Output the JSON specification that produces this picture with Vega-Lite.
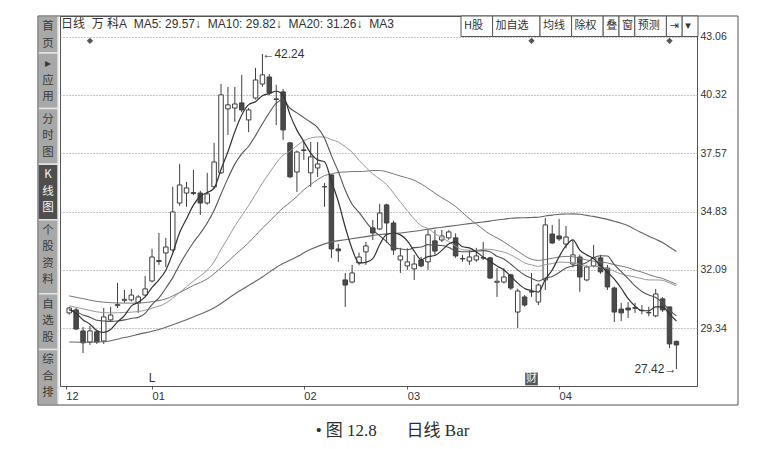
{
"$schema": "https://vega.github.io/schema/vega-lite/v6.json",
"width": 637,
"height": 370,
"autosize": {"type": "none"},
"padding": {"left": 60, "top": 16, "right": 74, "bottom": 63},
"background": "#ffffff",
"config": {"view": {"stroke": "#555555", "strokeWidth": 1}, "font": "Liberation Sans"},
"title": {"text": "日线\u00a0\u00a0万\u00a0科A\u00a0\u00a0MA5: 29.57↓\u00a0\u00a0MA10: 29.82↓\u00a0\u00a0MA20: 31.26↓\u00a0\u00a0MA3", "anchor": "start", "frame": "group", "orient": "top", "offset": -28, "baseline": "bottom", "dx": 1, "fontSize": 12, "fontWeight": "normal", "color": "#333333", "font": "Liberation Sans, Noto Sans CJK SC"},
"datasets": {
"tabs": [{"k":"","t":"","n":0},{"k":"首页","t":"首\n页","n":2},{"k":"应用","t":"▸\n应\n用","n":3},{"k":"分时图","t":"分\n时\n图","n":3},{"k":"K线图","t":"K\n线\n图","n":3},{"k":"个股资料","t":"个\n股\n资\n料","n":4},{"k":"自选股","t":"自\n选\n股","n":3},{"k":"综合排","t":"综\n合\n排","n":3}],
"btn": [{"b":"","n":0},{"b":"H股","n":2},{"b":"加自选","n":3},{"b":"均线","n":2},{"b":"除权","n":2},{"b":"叠","n":1},{"b":"窗","n":1},{"b":"预测","n":2},{"b":"⇥","n":1},{"b":"▾","n":1}],
"k": [
{"i":0,"o":30.06,"h":30.35,"l":29.98,"c":30.29,"m5":30.22,"m10":30.2,"m20":30.39,"m30":30.86,"m60":28.69},
{"i":1,"o":30.2,"h":30.3,"l":29.25,"c":29.3,"m5":30.04,"m10":30.12},
{"i":2,"o":29.21,"h":29.4,"l":28.17,"c":28.65,"m5":29.73,"m10":29.96,"m20":30.25,"m30":30.73},
{"i":3,"o":28.69,"h":29.44,"l":28.55,"c":29.21,"m5":29.53,"m10":29.86,"m60":28.68},
{"i":4,"o":29.17,"h":29.25,"l":28.6,"c":28.69,"m5":29.23,"m10":29.71,"m20":30.11,"m30":30.6},
{"i":5,"o":28.74,"h":30.29,"l":28.6,"c":29.87,"m5":29.14,"m10":29.68,"m60":28.7},
{"i":6,"o":29.73,"h":30.34,"l":29.63,"c":29.96,"m5":29.28,"m10":29.66,"m20":30.06,"m30":30.54},
{"i":7,"o":30.4,"h":31.47,"l":30.29,"c":30.45,"m5":29.64,"m10":29.68},
{"i":8,"o":30.65,"h":31.14,"l":30.53,"c":30.7,"m5":29.93,"m10":29.73,"m20":30.08,"m30":30.52,"m60":28.9},
{"i":9,"o":30.67,"h":31.19,"l":30.6,"c":30.9,"m5":30.38,"m10":29.8},
{"i":10,"o":30.53,"h":30.9,"l":30.06,"c":30.81,"m5":30.56,"m10":29.85,"m20":30.12,"m30":30.52,"m60":29.05},
{"i":11,"o":30.9,"h":31.8,"l":30.85,"c":31.19,"m5":30.81,"m10":30.04},
{"i":12,"o":31.56,"h":33.07,"l":31.5,"c":32.69,"m5":31.26,"m10":30.45,"m20":30.28,"m30":30.59},
{"i":13,"o":32.52,"h":33.82,"l":32.32,"c":32.48,"m5":31.61,"m10":30.77,"m60":29.28},
{"i":14,"o":32.88,"h":33.59,"l":32.22,"c":33.16,"m5":32.07,"m10":31.22,"m20":30.52,"m30":30.72},
{"i":15,"o":33.02,"h":35.99,"l":32.95,"c":34.81,"m5":32.87,"m10":31.72},
{"i":16,"o":35.23,"h":37.07,"l":35.1,"c":36.08,"m5":33.84,"m10":32.33,"m20":31.02,"m30":31.02,"m60":29.62},
{"i":17,"o":35.7,"h":36.22,"l":35.05,"c":35.94,"m5":34.49,"m10":32.88},
{"i":18,"o":35.72,"h":36.79,"l":35.6,"c":35.68,"m5":35.13,"m10":33.37,"m20":31.56,"m30":31.35,"m60":29.87},
{"i":19,"o":35.7,"h":35.8,"l":34.67,"c":35.23,"m5":35.55,"m10":33.81,"m20":31.8},
{"i":20,"o":35.23,"h":36.65,"l":35.15,"c":35.66,"m5":35.72,"m10":34.29,"m20":32.07,"m30":31.66},
{"i":21,"o":35.99,"h":38.06,"l":35.9,"c":37.16,"m5":35.93,"m10":34.89,"m20":32.47,"m60":30.3},
{"i":22,"o":36.65,"h":40.83,"l":36.6,"c":40.32,"m5":36.81,"m10":35.65,"m20":33.05,"m30":32.18},
{"i":23,"o":39.66,"h":40.69,"l":38.43,"c":39.85,"m5":37.64,"m10":36.39,"m20":33.58},
{"i":24,"o":39.7,"h":40.69,"l":39.05,"c":39.89,"m5":38.58,"m10":37.06,"m20":34.14,"m30":32.78,"m60":30.95},
{"i":25,"o":39.94,"h":41.26,"l":39.5,"c":39.61,"m5":39.37,"m10":37.54,"m20":34.63},
{"i":26,"o":39.14,"h":39.7,"l":38.57,"c":39.61,"m5":39.86,"m10":37.9,"m20":35.11,"m30":33.36,"m60":31.35},
{"i":27,"o":40.17,"h":41.59,"l":40.1,"c":41.02,"m5":40.0,"m10":38.4,"m20":35.64},
{"i":28,"o":40.83,"h":42.24,"l":40.7,"c":41.26,"m5":40.28,"m10":38.96,"m20":36.17,"m30":34.05,"m60":31.75},
{"i":29,"o":41.16,"h":41.3,"l":40.3,"c":40.41,"m5":40.38,"m10":39.48,"m20":36.64,"m30":34.36},
{"i":30,"o":40.1,"h":40.79,"l":38.9,"c":40.13,"m5":40.49,"m10":39.93,"m20":37.11,"m30":34.69,"m60":32.2},
{"i":31,"o":40.46,"h":40.6,"l":38.2,"c":38.67,"m5":40.3,"m10":40.08,"m20":37.48,"m30":35.0},
{"i":32,"o":38.06,"h":38.1,"l":36.4,"c":36.46,"m5":39.39,"m10":39.69,"m20":37.67,"m30":35.26},
{"i":33,"o":36.69,"h":37.7,"l":35.75,"c":37.63,"m5":38.66,"m10":39.47,"m20":37.93,"m30":35.54,"m60":32.7},
{"i":34,"o":37.7,"h":38.1,"l":37.26,"c":37.73,"m5":38.12,"m10":39.25,"m20":38.16,"m30":35.85},
{"i":35,"o":36.65,"h":38.1,"l":35.99,"c":37.4,"m5":37.58,"m10":39.03,"m20":38.29,"m30":36.1,"m60":33.05},
{"i":36,"o":36.88,"h":38.1,"l":36.46,"c":37.07,"m5":37.26,"m10":38.78,"m20":38.34,"m30":36.33},
{"i":37,"o":35.99,"h":36.17,"l":35.05,"c":36.0,"m5":37.17,"m10":38.28,"m20":38.34,"m30":36.52},
{"i":38,"o":36.55,"h":36.6,"l":32.65,"c":33.07,"m5":36.25,"m10":37.46,"m20":38.21,"m30":36.6,"m60":33.4},
{"i":39,"o":33.07,"h":33.3,"l":32.46,"c":32.98,"m5":35.3,"m10":36.71,"m20":38.1,"m30":36.67},
{"i":40,"o":31.61,"h":31.94,"l":30.34,"c":31.37,"m5":34.1,"m10":35.84,"m20":37.88,"m30":36.69,"m60":33.5},
{"i":41,"o":31.51,"h":32.32,"l":31.45,"c":31.94,"m5":33.07,"m10":35.17,"m20":37.62,"m30":36.71},
{"i":42,"o":32.41,"h":32.9,"l":32.3,"c":32.69,"m5":32.41,"m10":34.79,"m20":37.24,"m30":36.71},
{"i":43,"o":32.93,"h":33.4,"l":32.32,"c":33.21,"m5":32.44,"m10":34.35,"m20":36.91,"m30":36.73,"m60":33.65},
{"i":44,"o":34.06,"h":34.43,"l":33.49,"c":33.82,"m5":32.61,"m10":33.96,"m20":36.6,"m30":36.76},
{"i":45,"o":34.01,"h":35.19,"l":33.95,"c":34.76,"m5":33.28,"m10":33.69,"m20":36.36,"m30":36.76,"m60":33.75},
{"i":46,"o":35.14,"h":35.2,"l":33.35,"c":34.29,"m5":33.75,"m10":33.41,"m20":36.1,"m30":36.7},
{"i":47,"o":34.29,"h":34.4,"l":32.79,"c":33.02,"m5":33.82,"m10":33.12,"m20":35.7,"m30":36.6},
{"i":48,"o":32.55,"h":33.12,"l":31.94,"c":32.74,"m5":33.73,"m10":33.08,"m20":35.27,"m30":36.5,"m60":33.82},
{"i":49,"o":32.27,"h":33.1,"l":32.08,"c":32.46,"m5":33.45,"m10":33.03,"m20":34.87,"m30":36.41},
{"i":50,"o":32.13,"h":32.79,"l":31.61,"c":32.36,"m5":32.97,"m10":33.13,"m20":34.48,"m30":36.3,"m60":33.9},
{"i":51,"o":32.55,"h":32.7,"l":32.2,"c":32.27,"m5":32.57,"m10":33.16,"m20":34.16,"m30":36.13},
{"i":52,"o":32.46,"h":33.96,"l":32.08,"c":33.73,"m5":32.71,"m10":33.27,"m20":34.03,"m30":35.92},
{"i":53,"o":33.45,"h":33.96,"l":32.79,"c":32.97,"m5":32.76,"m10":33.24,"m20":33.79,"m30":35.69,"m60":34.05},
{"i":54,"o":33.49,"h":33.96,"l":33.4,"c":33.68,"m5":33.0,"m10":33.23,"m20":33.59,"m30":35.48},
{"i":55,"o":33.59,"h":33.95,"l":33.5,"c":33.87,"m5":33.3,"m10":33.14,"m20":33.42,"m30":35.29,"m60":34.13},
{"i":56,"o":33.59,"h":33.8,"l":32.65,"c":32.74,"m5":33.4,"m10":32.98,"m20":33.2,"m30":35.06},
{"i":57,"o":32.62,"h":32.79,"l":32.46,"c":32.6,"m5":33.17,"m10":32.94,"m20":33.03,"m30":34.78,"m60":34.22},
{"i":58,"o":32.5,"h":33.02,"l":32.32,"c":32.69,"m5":33.12,"m10":32.94,"m20":33.01,"m30":34.49},
{"i":59,"o":32.55,"h":33.12,"l":32.46,"c":32.74,"m5":32.93,"m10":32.97,"m20":33.0,"m30":34.24,"m60":34.3},
{"i":60,"o":32.64,"h":33.4,"l":32.55,"c":32.66,"m5":32.69,"m10":32.99,"m20":33.06,"m30":33.99,"m60":34.34},
{"i":61,"o":32.65,"h":32.7,"l":31.66,"c":31.7,"m5":32.48,"m10":32.94,"m20":33.05,"m30":33.76,"m60":34.38},
{"i":62,"o":31.5,"h":32.17,"l":30.81,"c":31.55,"m5":32.27,"m10":32.72,"m20":32.99,"m30":33.59,"m60":34.43},
{"i":63,"o":31.51,"h":32.17,"l":31.45,"c":31.75,"m5":32.08,"m10":32.6,"m20":32.92,"m30":33.4,"m60":34.47},
{"i":64,"o":31.85,"h":31.9,"l":31.14,"c":31.23,"m5":31.78,"m10":32.35,"m20":32.79,"m30":33.18,"m60":34.51},
{"i":65,"o":30.1,"h":31.2,"l":29.35,"c":31.09,"m5":31.46,"m10":32.08,"m20":32.61,"m30":32.97,"m60":34.53},
{"i":66,"o":30.81,"h":30.9,"l":30.35,"c":30.43,"m5":31.21,"m10":31.84,"m20":32.41,"m30":32.75,"m60":34.54},
{"i":67,"o":31.04,"h":31.94,"l":30.81,"c":31.06,"m5":31.11,"m10":31.69,"m20":32.32,"m30":32.58,"m60":34.55},
{"i":68,"o":30.57,"h":31.45,"l":30.43,"c":31.37,"m5":31.04,"m10":31.56,"m20":32.25,"m30":32.53,"m60":34.56},
{"i":69,"o":31.61,"h":34.53,"l":31.14,"c":34.2,"m5":31.63,"m10":31.7,"m20":32.33,"m30":32.57,"m60":34.62},
{"i":70,"o":33.77,"h":34.2,"l":33.3,"c":33.35,"m5":32.08,"m10":31.77,"m20":32.38,"m30":32.63,"m60":34.66},
{"i":71,"o":33.68,"h":34.48,"l":33.45,"c":33.54,"m5":32.7,"m10":31.96,"m20":32.45,"m30":32.69,"m60":34.7},
{"i":72,"o":33.3,"h":34.15,"l":33.1,"c":33.63,"m5":33.22,"m10":32.17,"m20":32.44,"m30":32.72,"m60":34.71},
{"i":73,"o":32.36,"h":33.5,"l":32.2,"c":32.79,"m5":33.5,"m10":32.27,"m20":32.43,"m30":32.7,"m60":34.72},
{"i":74,"o":32.69,"h":32.8,"l":31.05,"c":31.75,"m5":33.01,"m10":32.32,"m20":32.34,"m30":32.63,"m60":34.7},
{"i":75,"o":31.61,"h":32.3,"l":31.55,"c":32.22,"m5":32.79,"m10":32.43,"m20":32.25,"m30":32.55,"m60":34.65},
{"i":76,"o":32.27,"h":33.26,"l":32.2,"c":32.65,"m5":32.61,"m10":32.66,"m20":32.25,"m30":32.49,"m60":34.6},
{"i":77,"o":32.65,"h":32.79,"l":31.9,"c":31.99,"m5":32.28,"m10":32.75,"m20":32.22,"m30":32.46,"m60":34.53},
{"i":78,"o":32.17,"h":32.32,"l":31.14,"c":31.28,"m5":31.98,"m10":32.74,"m20":32.15,"m30":32.41,"m60":34.46},
{"i":79,"o":31.23,"h":31.3,"l":29.63,"c":30.1,"m5":31.65,"m10":32.33,"m20":32.02,"m30":32.33,"m60":34.37},
{"i":80,"o":30.24,"h":30.53,"l":29.68,"c":30.06,"m5":31.22,"m10":32.0,"m20":31.89,"m30":32.26,"m60":34.28},
{"i":81,"o":30.29,"h":30.57,"l":29.82,"c":30.2,"m5":30.73,"m10":31.67,"m20":31.81,"m30":32.19,"m60":34.16},
{"i":82,"o":30.3,"h":30.53,"l":30.06,"c":30.28,"m5":30.38,"m10":31.33,"m20":31.75,"m30":32.07,"m60":33.99},
{"i":83,"o":30.18,"h":30.43,"l":30.0,"c":30.17,"m5":30.16,"m10":31.07,"m20":31.67,"m30":31.98,"m60":33.83},
{"i":84,"o":30.06,"h":30.35,"l":29.9,"c":30.08,"m5":30.16,"m10":30.9,"m20":31.61,"m30":31.86,"m60":33.67},
{"i":85,"o":29.92,"h":31.19,"l":29.85,"c":30.95,"m5":30.34,"m10":30.78,"m20":31.61,"m30":31.76,"m60":33.52},
{"i":86,"o":30.72,"h":30.8,"l":30.1,"c":30.2,"m5":30.34,"m10":30.53,"m20":31.59,"m30":31.68,"m60":33.37},
{"i":87,"o":30.34,"h":30.35,"l":28.41,"c":28.6,"m5":30.0,"m10":30.19,"m20":31.47,"m30":31.54,"m60":33.16},
{"i":88,"o":28.72,"h":28.75,"l":27.42,"c":28.55,"m5":29.68,"m10":29.92,"m20":31.33,"m30":31.41,"m60":32.95}
]
},
"layer": [
{
"data": {"name": "tabs"},
"transform": [
 {"window": [{"op": "sum", "field": "n", "as": "e"}], "frame": [null, 0]},
 {"window": [{"op": "sum", "field": "n", "as": "s"}], "frame": [null, -1]},
 {"filter": "datum.n > 0"}
],
"layer": [
{"mark": {"type": "rect", "stroke": "#e4e4e4", "strokeWidth": 1.5},
 "encoding": {
  "x": {"datum": 0, "type": "quantitative", "scale": {"domain": [0, 1], "range": [-22, -2]}, "axis": null},
  "x2": {"datum": 1},
  "y": {"field": "s", "type": "quantitative", "scale": {"domain": [0, 21], "range": [0, 389]}, "axis": null},
  "y2": {"field": "e"},
  "fill": {"condition": {"test": "datum.k === 'K线图'", "value": "#4e4e4e"}, "value": "#a8a8a8"}
 }},
{"mark": {"type": "text", "lineBreak": "\n", "lineHeight": 16.5, "fontSize": 11.5, "font": "Noto Sans CJK SC", "baseline": "middle", "dy": 11},
 "encoding": {
  "x": {"datum": 0.5, "type": "quantitative", "scale": {"domain": [0, 1], "range": [-22, -2]}, "axis": null},
  "y": {"field": "s", "type": "quantitative", "scale": {"domain": [0, 21], "range": [0, 389]}, "axis": null},
  "text": {"field": "t"},
  "color": {"condition": {"test": "datum.k === 'K线图'", "value": "#f4f4f4"}, "value": "#3a3a3a"}
 }}
]
},
{
"data": {"values": [{}]},
"mark": {"type": "rect", "fill": "transparent", "stroke": "#555555", "strokeWidth": 1},
"encoding": {
 "x": {"datum": 0, "type": "quantitative", "scale": {"domain": [0, 1], "range": [-22, 678]}, "axis": null},
 "x2": {"datum": 1},
 "y": {"datum": 0, "type": "quantitative", "scale": {"domain": [0, 1], "range": [0, 389]}, "axis": null},
 "y2": {"datum": 1}
}
},
{
"data": {"name": "btn"},
"transform": [
 {"window": [{"op": "sum", "field": "n", "as": "e"}], "frame": [null, 0]},
 {"window": [{"op": "sum", "field": "n", "as": "s"}], "frame": [null, -1]},
 {"filter": "datum.n > 0"}
],
"layer": [
{"mark": {"type": "rect", "fill": "#ffffff", "stroke": "#555555", "strokeWidth": 1},
 "encoding": {
  "x": {"field": "s", "type": "quantitative", "scale": {"domain": [0, 15], "range": [401, 638]}, "axis": null},
  "x2": {"field": "e"},
  "y": {"datum": 0, "type": "quantitative", "scale": {"domain": [0, 1], "range": [0, 20.5]}, "axis": null},
  "y2": {"datum": 1}
 }},
{"mark": {"type": "text", "fontSize": 11, "font": "Noto Sans CJK SC, DejaVu Sans", "color": "#333333", "align": "left", "dx": 3},
 "encoding": {
  "x": {"field": "s", "type": "quantitative", "scale": {"domain": [0, 15], "range": [401, 638]}, "axis": null},
  "y": {"datum": 0.5, "type": "quantitative", "scale": {"domain": [0, 1], "range": [0, 20.5]}, "axis": null},
  "text": {"field": "b"}
 }}
]
},
{
"data": {"name": "k"},
"encoding": {
 "x": {"field": "i", "type": "quantitative", "scale": {"domain": [-0.613, 90.26], "nice": false, "zero": false},
  "axis": {"values": [-0.5, 12, 34, 49, 71], "labelExpr": "datum.value < 0 ? '12' : datum.value < 20 ? '01' : datum.value < 40 ? '02' : datum.value < 60 ? '03' : '04'", "labelAlign": "left", "labelBaseline": "top", "labelPadding": 1, "labelDx": 1, "labelFontSize": 11, "labelColor": "#333333", "labelFlush": false, "labelOverlap": false, "tickSize": 3, "tickColor": "#555555", "domain": false, "grid": false,
   "title": "•\u00a0图\u00a012.8\u00a0\u00a0\u00a0\u00a0\u00a0\u00a0\u00a0日线\u00a0Bar", "titleFont": "Liberation Serif, Noto Sans CJK SC", "titleFontSize": 17, "titleFontWeight": "normal", "titleColor": "#2b2b2b", "titlePadding": 21, "titleX": 332, "titleAnchor": "middle"}}
},
"layer": [
{"mark": {"type": "rule", "color": "#3f3f3f", "strokeWidth": 1},
 "encoding": {
  "y": {"field": "l", "type": "quantitative", "scale": {"domain": [26.62, 44.03], "nice": false, "zero": false},
   "axis": {"orient": "right", "values": [43.06, 40.32, 37.57, 34.83, 32.09, 29.34], "format": ".2f", "grid": true, "gridDash": [1, 2], "gridColor": "#8a8a8a", "ticks": false, "domain": false, "labelPadding": 3, "labelFontSize": 10.5, "labelColor": "#333333", "labelBaseline": "middle", "labelAlign": "left", "title": null}},
  "y2": {"field": "h"}
 }},
{"mark": {"type": "bar", "size": 4.5, "stroke": "#3f3f3f", "strokeWidth": 1},
 "encoding": {
  "y": {"field": "o", "type": "quantitative", "title": null, "scale": {"domain": [26.62, 44.03], "nice": false, "zero": false}},
  "y2": {"field": "c"},
  "fill": {"condition": {"test": "datum.c >= datum.o", "value": "#ffffff"}, "value": "#4a4a4a"}
 }},
{"transform": [{"filter": "isValid(datum.m60)"}],
 "mark": {"type": "line", "color": "#666666", "strokeWidth": 1.1, "interpolate": "monotone"},
 "encoding": {"y": {"field": "m60", "type": "quantitative", "title": null, "scale": {"domain": [26.62, 44.03], "nice": false, "zero": false}}}},
{"transform": [{"filter": "isValid(datum.m30)"}],
 "mark": {"type": "line", "color": "#777777", "strokeWidth": 1, "interpolate": "monotone"},
 "encoding": {"y": {"field": "m30", "type": "quantitative", "title": null, "scale": {"domain": [26.62, 44.03], "nice": false, "zero": false}}}},
{"transform": [{"filter": "isValid(datum.m20)"}],
 "mark": {"type": "line", "color": "#999999", "strokeWidth": 1, "interpolate": "monotone"},
 "encoding": {"y": {"field": "m20", "type": "quantitative", "title": null, "scale": {"domain": [26.62, 44.03], "nice": false, "zero": false}}}},
{"mark": {"type": "line", "color": "#555555", "strokeWidth": 1.1, "interpolate": "monotone"},
 "encoding": {"y": {"field": "m10", "type": "quantitative", "title": null, "scale": {"domain": [26.62, 44.03], "nice": false, "zero": false}}}},
{"mark": {"type": "line", "color": "#333333", "strokeWidth": 1.2, "interpolate": "monotone"},
 "encoding": {"y": {"field": "m5", "type": "quantitative", "title": null, "scale": {"domain": [26.62, 44.03], "nice": false, "zero": false}}}},
{"data": {"values": [{"i": 3}, {"i": 67}, {"i": 87}]},
 "mark": {"type": "point", "shape": "diamond", "filled": true, "size": 40, "color": "#555555", "opacity": 1},
 "encoding": {"y": {"datum": 42.86, "type": "quantitative", "title": null, "scale": {"domain": [26.62, 44.03], "nice": false, "zero": false}}}},
{"data": {"values": [{"i": 28, "p": 42.24, "t": "←42.24"}]},
 "mark": {"type": "text", "align": "left", "baseline": "middle", "fontSize": 12, "color": "#333333", "dx": 0},
 "encoding": {"y": {"field": "p", "type": "quantitative", "title": null, "scale": {"domain": [26.62, 44.03], "nice": false, "zero": false}}, "text": {"field": "t"}}},
{"data": {"values": [{"i": 88, "p": 27.42, "t": "27.42→"}]},
 "mark": {"type": "text", "align": "right", "baseline": "middle", "fontSize": 12, "color": "#333333", "dx": 0},
 "encoding": {"y": {"field": "p", "type": "quantitative", "title": null, "scale": {"domain": [26.62, 44.03], "nice": false, "zero": false}}, "text": {"field": "t"}}},
{"data": {"values": [{"i": 12, "p": 27.0, "t": "L"}]},
 "mark": {"type": "text", "align": "center", "baseline": "middle", "fontSize": 12, "color": "#333333"},
 "encoding": {"y": {"field": "p", "type": "quantitative", "title": null, "scale": {"domain": [26.62, 44.03], "nice": false, "zero": false}}, "text": {"field": "t"}}},
{"data": {"values": [{"i": 67, "p": 26.95, "t": "财"}]},
 "layer": [
  {"mark": {"type": "square", "size": 160, "filled": true, "color": "#555555", "opacity": 1},
   "encoding": {"y": {"field": "p", "type": "quantitative", "title": null, "scale": {"domain": [26.62, 44.03], "nice": false, "zero": false}}}},
  {"mark": {"type": "text", "align": "center", "baseline": "middle", "fontSize": 11, "color": "#f2f2f2", "font": "Noto Sans CJK SC"},
   "encoding": {"y": {"field": "p", "type": "quantitative", "title": null, "scale": {"domain": [26.62, 44.03], "nice": false, "zero": false}}, "text": {"field": "t"}}}
 ]}
]
}
],
"resolve": {"scale": {"x": "independent", "y": "independent"}}
}
